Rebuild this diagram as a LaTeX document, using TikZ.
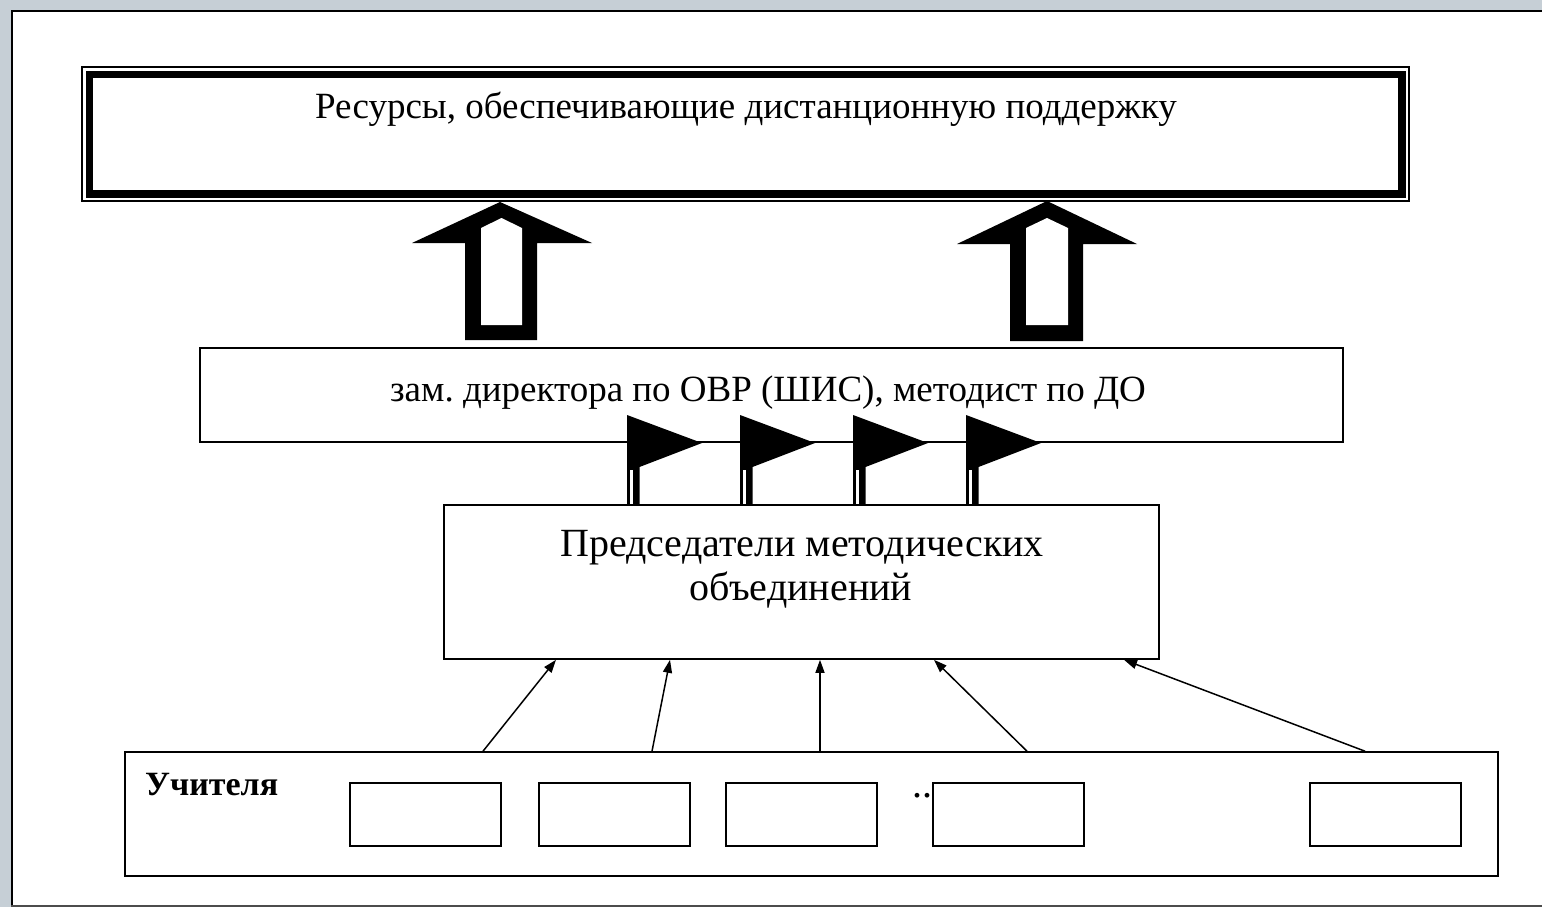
\documentclass[tikz,border=0pt]{standalone}
\usepackage{fontspec}
\setmainfont{Liberation Serif}
\usetikzlibrary{arrows.meta,calc}
\definecolor{framegrey}{RGB}{198,207,214}
\frenchspacing
\begin{document}
\begin{tikzpicture}[x=1pt,y=-1pt,
  box/.style={draw, line width=1.6pt, inner sep=0pt, fill=white},
  lbl/.style={font=\fontsize{37}{42}\selectfont, inner sep=0pt},
  biglbl/.style={font=\fontsize{40}{44}\selectfont, inner sep=0pt},
  thinarrow/.style={line width=1.5pt, -{Triangle[length=13pt,width=9pt]}},
  smallbox/.style={box, minimum width=151pt, minimum height=63pt}]
\useasboundingbox (0,0) rectangle (1542,907);
% frame
\fill[framegrey] (0,0) rectangle (1542,907);
\fill[white] (11,10) rectangle (1542,906);
\draw[line width=2.5pt] (12,907) -- (12,11) -- (1542,11);
\draw[line width=2pt, black!70] (11,906) -- (1542,906);
% top box
\draw[line width=1.5pt] (82,67) rectangle (1409,201);
\node[draw, line width=7.5pt, minimum width=1312.5pt, minimum height=119.5pt, inner sep=0pt] (res) at (745.75,134.25) {};
\node[lbl, anchor=base] (restext) at (746,118) {Ресурсы, обеспечивающие дистанционную поддержку};
% middle box
\node[box, minimum width=1143pt, minimum height=94pt] (zam) at (771.5,395) {};
\node[lbl, anchor=base] (zamtext) at (768,401) {зам. директора по ОВР (ШИС), методист по ДО};
% block arrows
\fill (465,340) -- (537,340) -- (537,243) -- (592,243) -- (500,202) -- (412,243) -- (465,243) -- cycle;
\fill[white] (481,325) -- (522,325) -- (522,228) -- (501.5,218) -- (481,228) -- cycle;
\fill (1010,341) -- (1083,341) -- (1083,244) -- (1137,244) -- (1047,201) -- (957,244) -- (1010,244) -- cycle;
\fill[white] (1026,325) -- (1068,325) -- (1068,228) -- (1047,218) -- (1026,228) -- cycle;
% chairs box
\node[box, minimum width=715pt, minimum height=154pt] (pred) at (801.5,582) {};
\node[biglbl, anchor=base] (pred1) at (802,556) {Председатели методических};
\node[biglbl, anchor=base] (pred2) at (801,600) {объединений};
% flags
\foreach \L in {627,740,853,966}{
  \fill (\L,415) -- (\L+75,443) -- (\L+12.5,467) -- (\L+12.5,505) -- (\L,505) -- cycle;
  \fill[white] (\L+2.7,470) rectangle (\L+5.7,504);
}
% teachers
\node[box, minimum width=1373pt, minimum height=124pt] (teach) at (811.5,814) {};
\node[anchor=base west, inner sep=0pt, font=\bfseries\fontsize{34}{40}\selectfont] (teachtext) at (145,795) {Учителя};
\node[smallbox] (b1) at (425.5,814.5) {};
\node[smallbox] (b2) at (614.5,814.5) {};
\node[smallbox] (b3) at (801.5,814.5) {};
\node[smallbox] (b4) at (1008.5,814.5) {};
\node[smallbox] (b5) at (1385.5,814.5) {};
\node[anchor=base east, inner sep=0pt, font=\fontsize{40}{44}\selectfont] (dots) at (b4.west |- 0,797) {..};
% arrows
\draw[thinarrow] (teach.north -| 483,0) -- (pred.south -| 556,0);
\draw[thinarrow] (teach.north -| 652,0) -- (pred.south -| 670,0);
\draw[thinarrow] (teach.north -| 820,0) -- (pred.south -| 820,0);
\draw[thinarrow] (teach.north -| 1027,0) -- (pred.south -| 934,0);
\draw[thinarrow] (teach.north -| 1365,0) -- (pred.south -| 1124,0);
\end{tikzpicture}
\end{document}
